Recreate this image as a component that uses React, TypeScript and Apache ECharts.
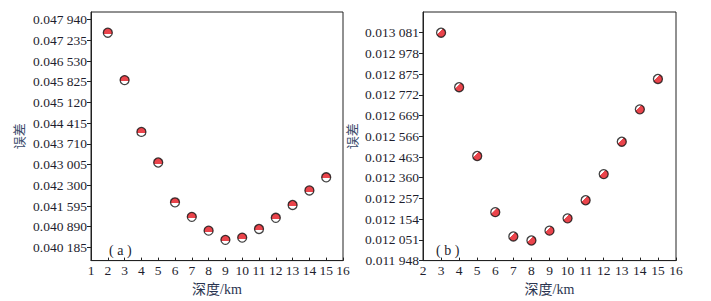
import React, { useEffect, useRef } from "react";
import * as echarts from "echarts";

const depthA = [2, 3, 4, 5, 6, 7, 8, 9, 10, 11, 12, 13, 14, 15];
const errorA = [0.047494, 0.04588, 0.044118, 0.043076, 0.041721, 0.041227, 0.040757, 0.040444, 0.040521, 0.040814, 0.041194, 0.041631, 0.042125, 0.042572];
const ticksA = [0.040185, 0.04089, 0.041595, 0.0423, 0.043005, 0.04371, 0.044415, 0.04512, 0.045825, 0.04653, 0.047235, 0.04794];

const depthB = [3, 4, 5, 6, 7, 8, 9, 10, 11, 12, 13, 14, 15];
const errorB = [0.013081, 0.01281, 0.012468, 0.012189, 0.012068, 0.012048, 0.012097, 0.012158, 0.012248, 0.012378, 0.012539, 0.0127, 0.012851];
const ticksB = [0.011948, 0.012051, 0.012154, 0.012257, 0.01236, 0.012463, 0.012566, 0.012669, 0.012772, 0.012875, 0.012978, 0.013081];

const FONT = "'Liberation Serif', 'Times New Roman', 'Noto Sans CJK SC', serif";
const TXT = "#1e1e2e";

function fmt(v: number) {
  const s = v.toFixed(6);
  return s.slice(0, 5) + " " + s.slice(5);
}

export default function App() {
  const ref = useRef<HTMLDivElement>(null);
  useEffect(() => {
    if (!ref.current) return;
    const chart = echarts.init(ref.current, null, { renderer: "svg" });
    const xAxisBase = (min: number) => ({
      type: "value" as const,
      min,
      max: 16,
      interval: 1,
      name: "深度/km",
      nameLocation: "middle" as const,
      nameGap: 12,
      nameTextStyle: { fontFamily: FONT, fontSize: 14, color: "#2a3450" },
      axisLine: { show: true, lineStyle: { color: "#222", width: 1 } },
      axisTick: { show: true, inside: true, length: 3, lineStyle: { color: "#222" } },
      axisLabel: { fontFamily: FONT, fontSize: 13.5, color: TXT, margin: 3 },
      splitLine: { show: false },
    });
    const yAxisBase = (min: number, max: number, ticks: number[], gap: number) => ({
      type: "value" as const,
      min,
      max,
      name: "误差",
      nameLocation: "middle" as const,
      nameGap: gap,
      nameTextStyle: { fontFamily: FONT, fontSize: 13, color: "#3a4a6a" },
      axisLine: { show: true, lineStyle: { color: "#222", width: 1 } },
      axisTick: { show: true, inside: false, length: 4, customValues: ticks, lineStyle: { color: "#222" } },
      axisLabel: { fontFamily: FONT, fontSize: 13.5, color: TXT, margin: 4, customValues: ticks, formatter: fmt },
      splitLine: { show: false },
    });
    const markerA = {
      type: "linear", x: 0, y: 0, x2: 0, y2: 1,
      colorStops: [
        { offset: 0, color: "#e5161f" },
        { offset: 0.62, color: "#e5161f" },
        { offset: 0.63, color: "#ffffff" },
        { offset: 1, color: "#ffffff" },
      ],
    };
    const markerB = {
      type: "linear", x: 0, y: 0, x2: 1, y2: 1,
      colorStops: [
        { offset: 0, color: "#ffffff" },
        { offset: 0.36, color: "#ffffff" },
        { offset: 0.37, color: "#e5161f" },
        { offset: 1, color: "#e5161f" },
      ],
    };
    chart.setOption({
      animation: false,
      grid: [
        { left: 91, top: 12, width: 252, height: 252, show: true, borderColor: "#222", borderWidth: 1 },
        { left: 423, top: 12, width: 253, height: 252, show: true, borderColor: "#222", borderWidth: 1 },
      ],
      xAxis: [
        { ...xAxisBase(1), gridIndex: 0 },
        { ...xAxisBase(2), gridIndex: 1 },
      ],
      yAxis: [
        { ...yAxisBase(0.039738, 0.048198, ticksA, 65), gridIndex: 0 },
        { ...yAxisBase(0.011948, 0.013184, ticksB, 64), gridIndex: 1 },
      ],
      series: [
        {
          type: "scatter",
          xAxisIndex: 0,
          yAxisIndex: 0,
          data: depthA.map((d, i) => [d, errorA[i]]),
          symbolSize: 9,
          itemStyle: { color: markerA, borderColor: "#111", borderWidth: 1.3 },
        },
        {
          type: "scatter",
          xAxisIndex: 1,
          yAxisIndex: 1,
          data: depthB.map((d, i) => [d, errorB[i]]),
          symbolSize: 9,
          itemStyle: { color: markerB, borderColor: "#111", borderWidth: 1.3 },
        },
      ],
      graphic: [
        { type: "text", left: 109, top: 243, style: { text: "( a )", fontFamily: FONT, fontSize: 14, fill: TXT } },
        { type: "text", left: 436, top: 243, style: { text: "( b )", fontFamily: FONT, fontSize: 14, fill: TXT } },
      ],
    });
    return () => chart.dispose();
  }, []);
  return <div ref={ref} style={{ position: "fixed", left: 0, top: 0, width: 711, height: 301, background: "#fff" }} />;
}
